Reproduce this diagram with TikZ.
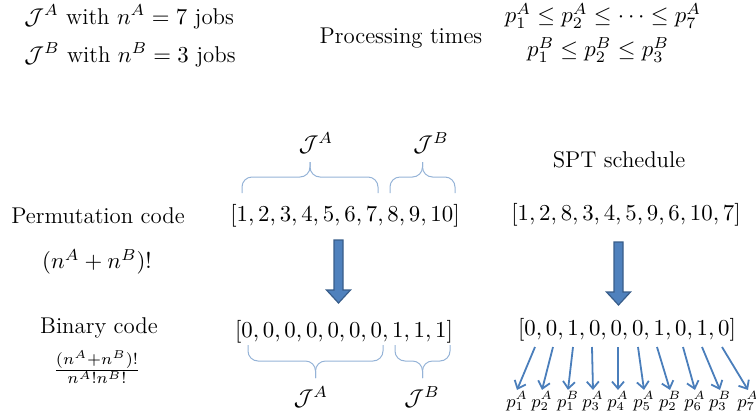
\RequirePackage{fix-cm}
\documentclass[tikz,border=0pt]{standalone}
\usepackage{tikz}
\usepackage{xcolor}
\usetikzlibrary{arrows.meta}
\definecolor{bracecol}{HTML}{95B3D7}
\definecolor{arrowcol}{HTML}{4A7EBB}
\definecolor{bigfill}{HTML}{4F81BD}
\definecolor{bigedge}{HTML}{385D8A}

\begin{document}
\begin{tikzpicture}[
  x=0.5pt, y=-0.5pt,
  txt/.style={font=\fontsize{11.4}{13.7}\selectfont, inner sep=1pt},
  plab/.style={font=\fontsize{9}{10.8}\selectfont, inner sep=0.5pt},
  brace/.style={draw=bracecol, line width=0.5pt, rounded corners=5},
  small/.style={-{Straight Barb[length=3.5pt, width=6pt]}, draw=arrowcol, line width=0.9pt},
  bigarrow/.pic={
    \filldraw[fill=bigfill, draw=bigedge, line width=0.6pt]
      (-4.5,0) -- (-4.5,50) -- (-12,50) -- (0,63) -- (12,50) -- (4.5,50) -- (4.5,0) -- cycle;
  },
]
\clip (0,0) rectangle (756,414);

% job sets and processing times
\node[txt, anchor=west] (setA) at (22,17) {$\mathcal{J}^A$ with $n^A=7$ jobs};
\node[txt, anchor=west] (setB) at (22,55) {$\mathcal{J}^B$ with $n^B=3$ jobs};
\node[txt] (proc) at (401,38) {Processing times};
\node[txt] (ordA) at (603,16) {$p_1^A \le p_2^A \le \cdots \le p_7^A$};
\node[txt] (ordB) at (598,50) {$p_1^B \le p_2^B \le p_3^B$};

% left column
\node[txt] (perm)  at (98,216) {Permutation code};
\node[txt] (permN) at (97,262) {$(n^A+n^B)!$};
\node[txt] (bin)   at (99,328) {Binary code};
\node[txt] (binN)  at (97,367) {$\frac{(n^A+n^B)!}{n^A!n^B!}$};

% middle column
\node[txt] (topA)  at (316,143) {$\mathcal{J}^A$};
\node[txt] (topB)  at (431,143) {$\mathcal{J}^B$};
\node[txt] (plist) at (345,216) {$[1,2,3,4,5,6,7,8,9,10]$};
\node[txt] (blist) at (344,332) {$[0,0,0,0,0,0,0,1,1,1]$};
\node[txt] (botA)  at (311,397) {$\mathcal{J}^A$};
\node[txt] (botB)  at (422,397) {$\mathcal{J}^B$};

% right column
\node[txt] (spt)    at (619,160) {SPT schedule};
\node[txt] (slist)  at (626,215) {$[1,2,8,3,4,5,9,6,10,7]$};
\node[txt] (sblist) at (627,330) {$[0,0,1,0,0,0,1,0,1,0]$};

% braces over and under the codes
\foreach \xa/\xb/\ye/\yh/\yt in {242/378/193/177/162, 390/455/193/177/162,
                                 248/383/345/361/378, 395/450/345/361/378} {
  \pgfmathsetmacro{\xm}{(\xa+\xb)/2}
  \draw[brace] (\xa,\ye) |- (\xm,\yh) -- (\xm,\yt);
  \draw[brace] (\xb,\ye) |- (\xm,\yh) -- (\xm,\yt);
}

% permutation code -> binary code
\pic at (338.5,240) {bigarrow};
\pic at (618.5,242) {bigarrow};

% binary digits -> processing times
\foreach \i/\xs/\xl/\lab in {1/535/517/p_1^A, 2/553/542/p_2^A, 3/573/568/p_1^B,
                             4/592/593/p_3^A, 5/618/618/p_4^A, 6/638/644/p_5^A,
                             7/657/670/p_2^B, 8/683/695/p_6^A, 9/702/720/p_3^B,
                             10/722/748/p_7^A} {
  \coordinate (s\i) at (\xs,347);
  \node[plab] (p\i) at (\xl,401) {$\lab$};
  \draw[small] (s\i) -- (p\i.north);
}
\end{tikzpicture}
\end{document}
